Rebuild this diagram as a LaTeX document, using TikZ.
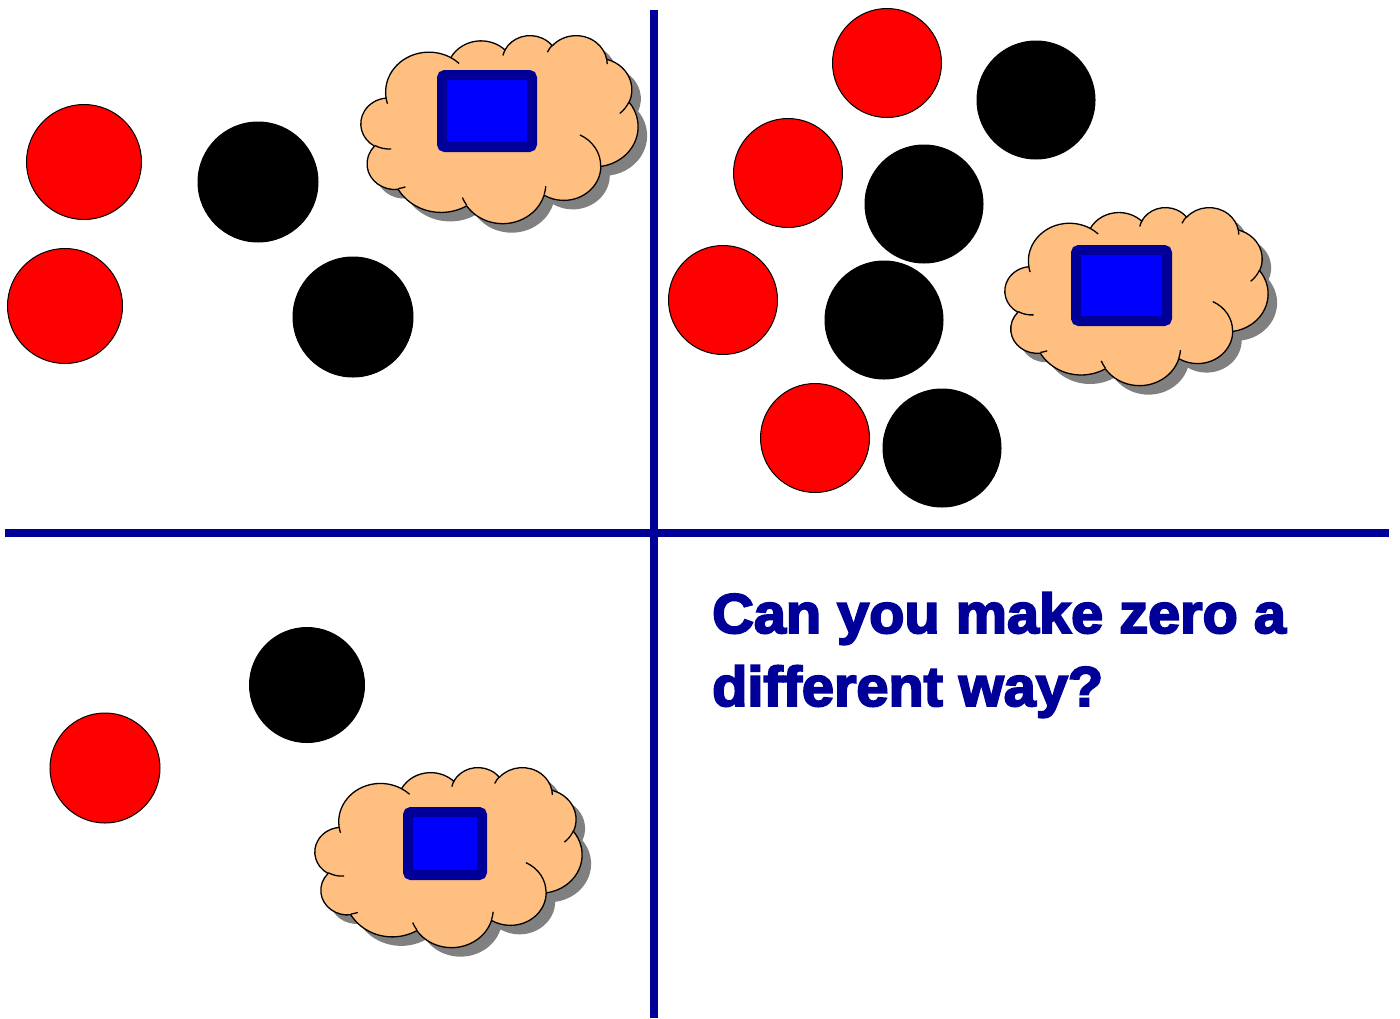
\documentclass[tikz,border=0pt]{standalone}
\usepackage{fontspec}
\setmainfont{Liberation Sans}
\newfontfamily\heavyfont[FakeBold=3.5,FakeStretch=1.03]{Liberation Sans Bold}
\definecolor{navyline}{RGB}{0,0,153}
\definecolor{cloudfill}{RGB}{255,191,128}
\definecolor{sqblue}{RGB}{0,0,255}
\definecolor{shadowgray}{RGB}{128,128,128}
% convert visual (DrawingML) arc angles to parametric ones
\newcommand\ooprep[5]{%
  \pgfmathsetmacro\ooA{atan2(#2*sin(#4),#3*cos(#4))}%
  \pgfmathsetmacro\ooB{atan2(#2*sin(#4+#5),#3*cos(#4+#5))}%
  \pgfmathsetmacro\ooB{(#5>0) ? ((\ooB<\ooA) ? \ooB+360 : \ooB) : ((\ooB>\ooA) ? \ooB-360 : \ooB)}%
  \expandafter\xdef\csname ooS#1\endcsname{\ooA}%
  \expandafter\xdef\csname ooE#1\endcsname{\ooB}}
\ooprep{a}{67.53}{91.90}{-190.4875}{123.7805}
\ooprep{b}{53.33}{72.67}{-144.1024}{89.9452}
\ooprep{c}{43.65}{59.45}{-145.8079}{99.7230}
\ooprep{d}{48.57}{65.95}{-130.9861}{117.2417}
\ooprep{e}{53.33}{72.73}{-78.7089}{109.0269}
\ooprep{f}{67.75}{92.20}{-46.2673}{130.2690}
\ooprep{g}{57.85}{78.67}{0.6250}{114.0333}
\ooprep{h}{67.52}{92.15}{22.4516}{115.1726}
\ooprep{i}{77.20}{105.43}{66.2426}{75.7110}
\ooprep{j}{43.60}{59.18}{-274.9421}{146.7356}
\ooprep{k}{43.45}{59.45}{-246.8285}{152.5189}
\ooprep{A}{43.45}{59.45}{86.7420}{26.4295}
\ooprep{B}{43.60}{59.18}{73.6105}{11.4475}
\ooprep{C}{67.52}{92.15}{137.6242}{14.0811}
\ooprep{D}{67.52}{92.15}{6.4533}{15.9984}
\ooprep{E}{57.85}{78.67}{-70.2924}{70.9174}
\ooprep{F}{53.33}{72.73}{30.3180}{27.7515}
\ooprep{G}{48.57}{65.95}{-13.7443}{14.8589}
\ooprep{H}{48.57}{65.95}{-149.1815}{18.1954}
\ooprep{I}{43.65}{59.45}{-163.4943}{17.6864}
\ooprep{J}{67.53}{91.90}{-66.7070}{12.3194}
\ooprep{K}{67.53}{91.90}{157.6544}{11.8582}
\tikzset{
  redc/.style={circle,draw=black,line width=1pt,fill=red,inner sep=0pt,minimum size=#1},
  blackc/.style={circle,draw=black,line width=1pt,fill=black,inner sep=0pt,minimum size=#1},
  oocloudpath/.style={insert path={(39.00,143.70)
    arc[start angle=\ooSa,end angle=\ooEa,x radius=67.53,y radius=91.90]
    arc[start angle=\ooSb,end angle=\ooEb,x radius=53.33,y radius=72.67]
    arc[start angle=\ooSc,end angle=\ooEc,x radius=43.65,y radius=59.45]
    arc[start angle=\ooSd,end angle=\ooEd,x radius=48.57,y radius=65.95]
    arc[start angle=\ooSe,end angle=\ooEe,x radius=53.33,y radius=72.73]
    arc[start angle=\ooSf,end angle=\ooEf,x radius=67.75,y radius=92.20]
    arc[start angle=\ooSg,end angle=\ooEg,x radius=57.85,y radius=78.67]
    arc[start angle=\ooSh,end angle=\ooEh,x radius=67.52,y radius=92.15]
    arc[start angle=\ooSi,end angle=\ooEi,x radius=77.20,y radius=105.43]
    arc[start angle=\ooSj,end angle=\ooEj,x radius=43.60,y radius=59.18]
    arc[start angle=\ooSk,end angle=\ooEk,x radius=43.45,y radius=59.45] -- cycle}},
  ooinnerpath/.style={insert path={
    (46.93,261.77) arc[start angle=\ooSA,end angle=\ooEA,x radius=43.45,y radius=59.45]
    (69.28,348.99) arc[start angle=\ooSB,end angle=\ooEB,x radius=43.60,y radius=59.18]
    (164.78,390.90) arc[start angle=\ooSC,end angle=\ooEC,x radius=67.52,y radius=92.15]
    (288.27,347.51) arc[start angle=\ooSD,end angle=\ooED,x radius=67.52,y radius=92.15]
    (341.29,229.54) arc[start angle=\ooSE,end angle=\ooEE,x radius=57.85,y radius=78.67]
    (417.98,153.54) arc[start angle=\ooSF,end angle=\ooEF,x radius=53.33,y radius=72.73]
    (383.24,54.26) arc[start angle=\ooSG,end angle=\ooEG,x radius=48.57,y radius=65.95]
    (290.78,39.52) arc[start angle=\ooSH,end angle=\ooEH,x radius=48.57,y radius=65.95]
    (221.41,47.20) arc[start angle=\ooSI,end angle=\ooEI,x radius=43.65,y radius=59.45]
    (140.00,51.92) arc[start angle=\ooSJ,end angle=\ooEJ,x radius=67.53,y radius=91.90]
    (41.27,157.89) arc[start angle=\ooSK,end angle=\ooEK,x radius=67.53,y radius=91.90]}},
  cloudline/.style={draw=black,line width=1.3pt,line join=round},
  sqbox/.style={rectangle,rounded corners=3pt,draw=navyline,line width=10pt,fill=sqblue,inner sep=0pt},
  divider/.style={draw=navyline,line width=8pt},
  question/.style={text=navyline,font=\heavyfont\fontsize{56}{73}\selectfont,align=left,inner sep=0pt,anchor=base west}
}
\newcommand\oocloud[4]{%
  \pgfmathsetmacro\ooxs{#3/432}\pgfmathsetmacro\ooys{#4/432}%
  \begin{scope}[shift={(#1,#2)},x=\ooxs pt,y=-\ooys pt]
    \fill[shadowgray,xshift=9pt,yshift=-9pt,oocloudpath];
    \path[fill=cloudfill,cloudline,oocloudpath];
    \path[cloudline,ooinnerpath];
  \end{scope}}
\begin{document}
\begin{tikzpicture}[x=1pt,y=-1pt]
\useasboundingbox (0,0) rectangle (1400,1018);
% dividers
\coordinate (vt) at (654,10);
\coordinate (vb) at (654,1018);
\coordinate (hl) at (5,533);
\coordinate (hr) at (1389,533);
\draw[divider] (vt) -- (vb);
\draw[divider] (hl) -- (hr);
% top-left quadrant
\node[redc=115pt] (tl1) at (84,162) {};
\node[redc=115pt] (tl2) at (65,306) {};
\node[blackc=120pt] (tl3) at (258,182) {};
\node[blackc=120pt] (tl4) at (353,317) {};
\oocloud{361}{35}{277}{188}
\node[sqbox,minimum width=90pt,minimum height=72pt] (s1) at (487,111) {};
% top-right quadrant
\node[redc=109pt] (tr1) at (887,63) {};
\node[blackc=118pt] (tr2) at (1036,100) {};
\node[redc=109pt] (tr3) at (788,173) {};
\node[blackc=118pt] (tr4) at (924,204) {};
\node[redc=109pt] (tr5) at (723,300) {};
\node[blackc=118pt] (tr6) at (884,320) {};
\node[redc=109pt] (tr7) at (815,438) {};
\node[blackc=118pt] (tr8) at (942,448) {};
\oocloud{1005}{207}{263}{178}
\node[sqbox,minimum width=91pt,minimum height=71pt] (s2) at (1121.5,285.5) {};
% bottom-left quadrant
\node[blackc=115pt] (bl1) at (307,685) {};
\node[redc=110pt] (bl2) at (105,768) {};
\oocloud{315}{767}{267}{180}
\node[sqbox,minimum width=74pt,minimum height=63pt] (s3) at (445,843.5) {};
% text
\node[question] (q) at (712,706) {Can you make zero a\\different way?};
\end{tikzpicture}
\end{document}
